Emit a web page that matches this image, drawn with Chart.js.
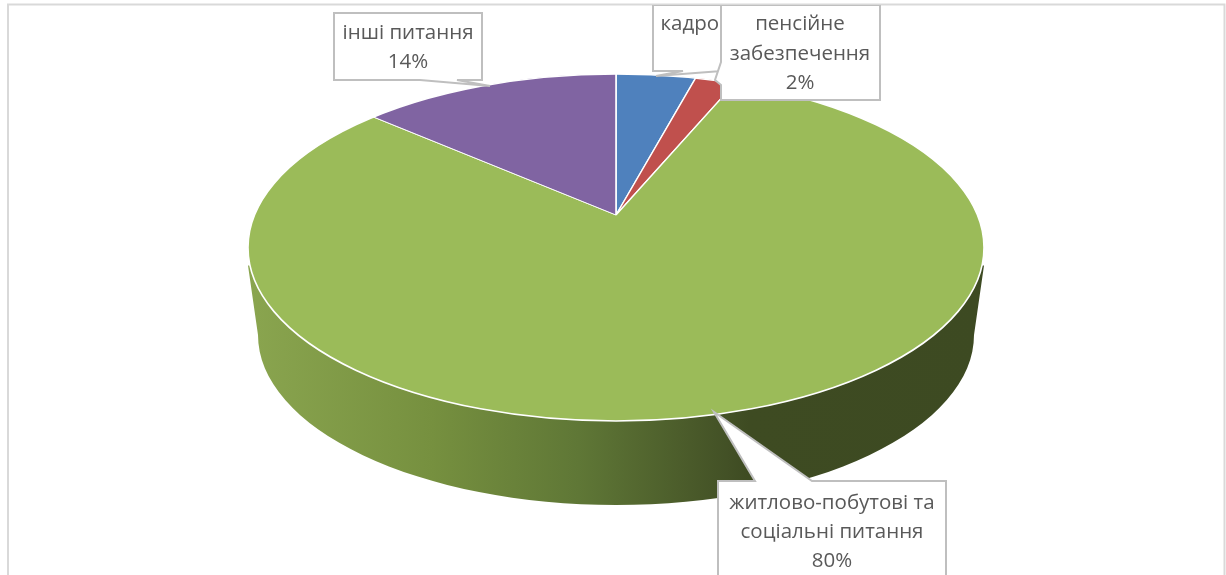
<!DOCTYPE html>
<html>
<head>
<meta charset="utf-8">
<style>html,body{margin:0;padding:0;background:#fff;overflow:hidden}#w{width:1226px;height:575px;position:relative}canvas{display:block}</style>
<script src="https://cdn.jsdelivr.net/npm/chart.js@4"></script>
</head>
<body>
<div id="w"><canvas id="c" width="1226" height="575"></canvas></div>
<script>
const categories = ['кадрові питання', 'пенсійне забезпечення', 'житлово-побутові та соціальні питання', 'інші питання'];
const values = [4.4, 2.2, 79.5, 14.0];
const colors = ['#4F81BD', '#C0504D', '#9BBB59', '#8064A2'];
const labelLines = [['кадрові питання'], ['пенсійне', 'забезпечення'], ['житлово-побутові та', 'соціальні питання'], ['інші питання']];
const labelPercents = ['4%', '2%', '80%', '14%'];

const FONT = '20.5px "Open Sans", "Noto Sans", sans-serif';
const TILT = 0.4875;
const TOP = {cx: 616, cy: 247.5, rx: 368, ry: 173.5};
const BOT = {cx: 616, cy: 335, rx: 358, ry: 170};
const BOXES = [
  {i: 0, x0: 653, y0: 5, x1: 800, y1: 71, lh: 30, ty: 24, tx: 743,
   pts: [[653,5],[800,5],[800,71],[715,71.5],[656,76],[683,71],[653,71]]},
  {i: 1, x0: 721, y0: 5, x1: 880, y1: 100, lh: 29.5, ty: 24.5, tx: 800,
   pts: [[721,5],[880,5],[880,100],[721,100],[721,85],[715,80],[721,62]]},
  {i: 3, x0: 334, y0: 13, x1: 482, y1: 80, lh: 29.5, ty: 33, tx: 408,
   pts: [[334,13],[482,13],[482,80],[457,80],[490,86],[420,80],[334,80]]},
  {i: 2, x0: 718, y0: 481, x1: 946, y1: 590, lh: 29, ty: 503, tx: 832,
   pts: [[718,481],[755,481],[714,412],[812,481],[946,481],[946,590],[718,590]]}
];

const pie3d = {
  id: 'pie3d',
  beforeDraw(chart) {
    const ctx = chart.ctx;
    ctx.save();
    ctx.strokeStyle = '#d9d9d9';
    ctx.lineWidth = 2;
    ctx.beginPath();
    ctx.moveTo(8, 576); ctx.lineTo(8, 4.5); ctx.lineTo(1224.5, 4.5); ctx.lineTo(1224.5, 576);
    ctx.stroke();
    ctx.restore();
  },
  beforeDatasetsDraw(chart) {
    const ctx = chart.ctx;
    const arc = chart.getDatasetMeta(0).data[0];
    ctx.save();
    const g = ctx.createLinearGradient(TOP.cx - TOP.rx, 0, TOP.cx + TOP.rx, 0);
    g.addColorStop(0, '#8aa54f');
    g.addColorStop(0.25, '#76903f');
    g.addColorStop(0.45, '#5f7736');
    g.addColorStop(0.65, '#435126');
    g.addColorStop(0.68, '#3e4b22');
    g.addColorStop(1, '#3d4a22');
    ctx.fillStyle = g;
    ctx.beginPath();
    ctx.moveTo(TOP.cx - TOP.rx, TOP.cy + 18);
    ctx.lineTo(BOT.cx - BOT.rx, BOT.cy);
    ctx.ellipse(BOT.cx, BOT.cy, BOT.rx, BOT.ry, 0, Math.PI, 0, true);
    ctx.lineTo(TOP.cx + TOP.rx, TOP.cy + 18);
    ctx.closePath();
    ctx.fill();
    ctx.restore();

    ctx.save();
    ctx.beginPath();
    ctx.ellipse(TOP.cx, TOP.cy, TOP.rx, TOP.ry, 0, 0, Math.PI * 2);
    ctx.clip();
    ctx.translate(0, arc.y);
    ctx.scale(1, TILT);
    ctx.translate(0, -arc.y);
  },
  afterDatasetsDraw(chart) {
    const ctx = chart.ctx;
    ctx.restore();
    ctx.save();
    ctx.strokeStyle = '#ffffff';
    ctx.lineWidth = 1.6;
    ctx.beginPath();
    ctx.ellipse(TOP.cx, TOP.cy, TOP.rx, TOP.ry, 0, 0, Math.PI * 2);
    ctx.stroke();

    ctx.beginPath();
    ctx.rect(0, 5, 1226, 570);
    ctx.clip();
    BOXES.forEach(b => {
      ctx.beginPath();
      b.pts.forEach((p, k) => k ? ctx.lineTo(p[0], p[1]) : ctx.moveTo(p[0], p[1]));
      ctx.closePath();
      ctx.fillStyle = '#ffffff';
      ctx.fill();
      ctx.strokeStyle = '#bfbfbf';
      ctx.lineWidth = 2;
      ctx.lineJoin = 'miter';
      ctx.stroke();
      ctx.fillStyle = '#595959';
      ctx.font = FONT;
      ctx.textAlign = 'center';
      ctx.textBaseline = 'middle';
      const lines = labelLines[b.i].concat([labelPercents[b.i]]);
      ctx.save();
      ctx.beginPath();
      ctx.rect(b.x0, b.y0, b.x1 - b.x0, b.y1 - b.y0);
      ctx.clip();
      lines.forEach((t, k) => ctx.fillText(t, b.tx, b.ty + k * b.lh));
      ctx.restore();
    });
    ctx.restore();
  }
};

new Chart(document.getElementById('c'), {
  type: 'pie',
  data: {
    labels: categories,
    datasets: [{data: values, backgroundColor: colors, borderColor: '#ffffff', borderWidth: 1.6, radius: 1100}]
  },
  options: {
    responsive: false,
    animation: false,
    layout: {padding: {left: 6, right: 0, top: 0, bottom: 145}},
    plugins: {legend: {display: false}, tooltip: {enabled: false}}
  },
  plugins: [pie3d]
});
</script>
</body>
</html>
